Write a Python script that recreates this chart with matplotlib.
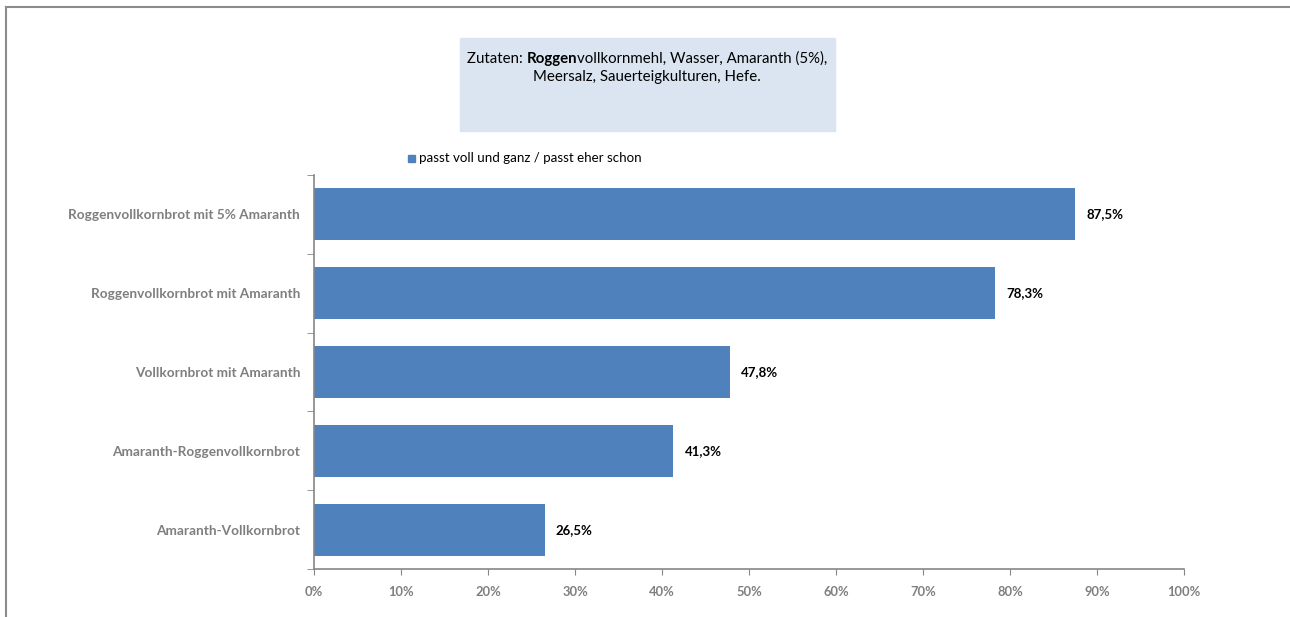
import matplotlib
matplotlib.use("Agg")
import matplotlib.pyplot as plt
from matplotlib.lines import Line2D
from matplotlib.patches import Rectangle

# Daten
categories = ['Amaranth-Vollkornbrot', 'Amaranth-Roggenvollkornbrot',
              'Vollkornbrot mit Amaranth', 'Roggenvollkornbrot mit Amaranth',
              'Roggenvollkornbrot mit 5% Amaranth']
values = [26.5, 41.3, 47.8, 78.3, 87.5]
series_name = 'passt voll und ganz / passt eher schon'
xticks = [0, 10, 20, 30, 40, 50, 60, 70, 80, 90, 100]
box_parts = [('Zutaten: ', 'normal'), ('Roggen', 'bold'),
             ('vollkornmehl, Wasser, Amaranth (5%),', 'normal')]
box_line2 = 'Meersalz, Sauerteigkulturen, Hefe.'

plt.rcParams['font.family'] = ['Lato', 'DejaVu Sans']
grey = '#7f7f7f'
blue = '#4F81BD'

fig = plt.figure(figsize=(12.9, 6.17), dpi=100)
ax = fig.add_axes([314 / 1290, 48 / 617, 870 / 1290, 394 / 617])

pos = range(len(categories))
ax.barh(pos, values, height=0.66, color=blue, label=series_name)
for p, v in zip(pos, values):
    ax.text(v + 1.3, p, f'{v:.1f}'.replace('.', ',') + '%', va='center', ha='left',
            fontsize=9.5, fontweight='bold', color='black')

ax.set_xlim(0, 100)
ax.set_ylim(-0.5, len(categories) - 0.5)
ax.set_xticks(xticks)
ax.set_xticklabels([f'{t}%' for t in xticks], fontsize=9.3, fontweight='bold', color=grey)
ax.set_yticks(list(pos))
ax.set_yticklabels(categories, fontsize=9.8, fontweight='bold', color=grey)
ax.set_yticks([i - 0.5 for i in range(len(categories) + 1)], minor=True)
ax.tick_params(axis='y', which='major', length=0, pad=10)
ax.tick_params(axis='y', which='minor', length=5, color='#868686')
ax.tick_params(axis='x', length=4, color='#868686', pad=8)
for s in ['top', 'right']:
    ax.spines[s].set_visible(False)
for s in ['left', 'bottom']:
    ax.spines[s].set_color('#868686')
    ax.spines[s].set_linewidth(1.2)

# Legende
fig.patches.append(Rectangle((408 / 1290, 1 - 162 / 617), 7 / 1290, 7 / 617,
                             transform=fig.transFigure, color=blue))
fig.text(419 / 1290, 1 - 158 / 617, series_name, fontsize=9.6, va='center', ha='left')

# Zutaten-Box
fig.patches.append(Rectangle((460 / 1290, 1 - 131 / 617), 375 / 1290, 93 / 617,
                             transform=fig.transFigure, color='#DBE5F1'))
fig.canvas.draw()
renderer = fig.canvas.get_renderer()
texts = [fig.text(0, 1 - 59 / 617, s, fontsize=10.8, fontweight=w, va='center', ha='left')
         for s, w in box_parts]
widths = [t.get_window_extent(renderer).width for t in texts]
x = 647 - sum(widths) / 2
for t, w in zip(texts, widths):
    t.set_x(x / 1290)
    x += w
fig.text(647 / 1290, 1 - 77 / 617, box_line2, fontsize=10.8, ha='center', va='center')

# Rahmen
fig.add_artist(Line2D([6 / 1290, 6 / 1290], [0, 1 - 7 / 617], transform=fig.transFigure,
                      color='#8c8c8c', lw=1.5))
fig.add_artist(Line2D([6 / 1290, 1], [1 - 7 / 617, 1 - 7 / 617], transform=fig.transFigure,
                      color='#8c8c8c', lw=1.5))

fig.savefig('out.png', dpi=100)
